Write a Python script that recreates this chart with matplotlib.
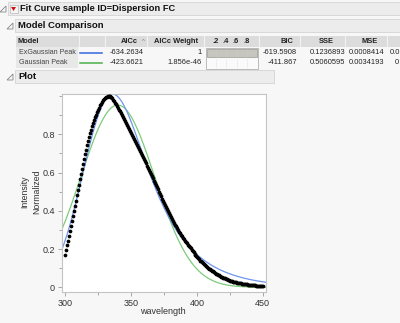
import math
import numpy as np
import matplotlib
matplotlib.use("Agg")
import matplotlib.pyplot as plt
from matplotlib.patches import Rectangle, Polygon
from matplotlib.lines import Line2D

plt.rcParams['font.family'] = ['Liberation Sans', 'DejaVu Sans']

W, H = 400, 323

# emission spectrum, normalized intensity sampled every 0.75 nm from 300 nm
wl_start, wl_step = 300.0, 0.75
intensity = [
    0.170, 0.194, 0.219, 0.244, 0.269, 0.294, 0.320, 0.346, 0.372, 0.399,
    0.425, 0.452, 0.480, 0.508, 0.536, 0.564, 0.592, 0.619, 0.645, 0.671,
    0.696, 0.720, 0.743, 0.764, 0.785, 0.805, 0.823, 0.841, 0.857, 0.874,
    0.889, 0.902, 0.915, 0.928, 0.940, 0.951, 0.961, 0.970, 0.978, 0.985,
    0.990, 0.994, 0.997, 0.999, 1.000, 0.999, 0.997, 0.993, 0.988, 0.981,
    0.974, 0.966, 0.957, 0.948, 0.939, 0.929, 0.920, 0.910, 0.900, 0.890,
    0.880, 0.869, 0.859, 0.848, 0.838, 0.827, 0.817, 0.806, 0.796, 0.785,
    0.775, 0.764, 0.754, 0.743, 0.733, 0.722, 0.712, 0.701, 0.691, 0.680,
    0.670, 0.659, 0.648, 0.636, 0.625, 0.614, 0.603, 0.591, 0.580, 0.569,
    0.557, 0.546, 0.535, 0.524, 0.512, 0.500, 0.488, 0.476, 0.464, 0.452,
    0.440, 0.430, 0.419, 0.409, 0.398, 0.388, 0.377, 0.367, 0.357, 0.347,
    0.338, 0.328, 0.318, 0.308, 0.299, 0.291, 0.283, 0.274, 0.266, 0.258,
    0.250, 0.243, 0.236, 0.230, 0.223, 0.216, 0.209, 0.203, 0.196, 0.189,
    0.182, 0.176, 0.169, 0.162, 0.156, 0.151, 0.146, 0.140, 0.135, 0.130,
    0.125, 0.120, 0.116, 0.111, 0.107, 0.102, 0.098, 0.094, 0.090, 0.086,
    0.083, 0.079, 0.075, 0.071, 0.068, 0.065, 0.062, 0.059, 0.056, 0.053,
    0.050, 0.048, 0.046, 0.044, 0.041, 0.039, 0.037, 0.035, 0.033, 0.032,
    0.030, 0.029, 0.027, 0.026, 0.024, 0.023, 0.022, 0.021, 0.020, 0.019,
    0.018, 0.017, 0.016, 0.016, 0.015, 0.014, 0.013, 0.013, 0.012, 0.012,
    0.011, 0.010, 0.010, 0.009, 0.009, 0.008, 0.008, 0.007, 0.007, 0.006,
    0.006,
]
wavelength = wl_start + wl_step * np.arange(len(intensity))

# fitted model parameters
exg_mu, exg_sigma, exg_tau, exg_peak = 320.0, 18.0, 28.0, 1.01
gau_amp, gau_center, gau_width = 0.953, 340.0, 28.0

# model comparison table
models = ['ExGaussian Peak', 'Gaussian Peak']
model_colors = ['#3565e0', '#4cb04c']
aicc = ['-634.2634', '-423.6621']
aicc_weight = ['1', '1.856e-46']
weight_val = [1.0, 0.0]
bic = ['-619.5908', '-411.867']
sse = ['0.1236893', '0.5060595']
mse = ['0.0008414', '0.0034193']
next_col = ['0.0', '0']

title = 'Fit Curve sample ID=Dispersion FC'
x_ticks = [300, 350, 400, 450]
y_ticks = [0, 0.2, 0.4, 0.6, 0.8]

TS = 5.4   # table font size
HS = 6.8   # section header size


def fx(x):
    return x / W


def fy(y):
    return 1 - y / H


def box(fig, x0, y0, x1, y1, fc, ec='none', lw=0.6, ls='-'):
    fig.add_artist(Rectangle((fx(x0), fy(y1)), fx(x1 - x0), (y1 - y0) / H,
                             facecolor=fc, edgecolor=ec, lw=lw, ls=ls,
                             transform=fig.transFigure))


def txt(fig, x, y, s, ha='left', size=TS, color='#222222', weight='normal'):
    fig.text(fx(x), fy(y), s, ha=ha, va='center', fontsize=size,
             color=color, fontweight=weight)


def tri(fig, x, y, color='#888888'):
    # disclosure triangle
    pts = [(fx(x - 3), fy(y + 3)), (fx(x + 3), fy(y + 3)), (fx(x + 3), fy(y - 3))]
    fig.add_artist(Polygon(pts, closed=True, facecolor='none', edgecolor=color,
                           lw=0.6, transform=fig.transFigure))


def exgauss(x):
    lam = 1.0 / exg_tau
    return np.array([
        lam / 2 * math.exp(lam / 2 * (2 * exg_mu + lam * exg_sigma ** 2 - 2 * v))
        * math.erfc((exg_mu + lam * exg_sigma ** 2 - v) / (math.sqrt(2) * exg_sigma))
        for v in x])


fig = plt.figure(figsize=(W / 100, H / 100), dpi=100)
fig.patch.set_facecolor('#f7f7f7')

# outline header
box(fig, 8, 2, 400, 15, '#ececec', '#d4d4d4')
tri(fig, 3, 9)
box(fig, 9.5, 4.5, 17.5, 13, '#f4f4f4', '#b8b8b8', lw=0.5)
fig.add_artist(Polygon([(fx(11), fy(7)), (fx(16), fy(7)), (fx(13.5), fy(11))],
                       closed=True, facecolor='#d01010', edgecolor='none',
                       transform=fig.transFigure))
txt(fig, 20, 8.5, title, size=6.7, weight='bold', color='#111111')

# model comparison section
box(fig, 15, 19, 400, 32, '#ececec', '#d4d4d4')
tri(fig, 10, 26)
txt(fig, 18, 25.5, 'Model Comparison', size=HS, weight='bold', color='#111111')

box(fig, 16, 36, 400, 47, '#dcdcdc')
for xs in [78.5, 104.5, 147, 203.5, 259, 300, 345, 387]:
    fig.add_artist(Line2D([fx(xs), fx(xs)], [fy(36), fy(47)], color='#f2f2f2',
                          lw=0.8, transform=fig.transFigure))
txt(fig, 18, 41.5, 'Model', weight='bold')
txt(fig, 138, 41.5, 'AICc', ha='right', weight='bold')
txt(fig, 143.5, 41.5, '^', ha='center', size=4.5, color='#777777')
txt(fig, 198, 41.5, 'AICc Weight', ha='right', weight='bold')
for k, lab in enumerate(['.2', '.4', '.6', '.8']):
    txt(fig, 215.5 + 10.3 * k, 41.5, lab, ha='center', weight='bold')
txt(fig, 293, 41.5, 'BIC', ha='right', weight='bold')
txt(fig, 334, 41.5, 'SSE', ha='right', weight='bold')
txt(fig, 378, 41.5, 'MSE', ha='right', weight='bold')

# table rows
bar_x0, bar_x1 = 205.5, 257.5
box(fig, bar_x0, 47.5, bar_x1, 68.5, '#fafafa', '#b0b0b0', lw=0.6)
for i, name in enumerate(models):
    yc = 52.5 + 10.5 * i
    box(fig, 16, yc - 5, 78, yc + 5, '#e8e8e8')
    txt(fig, 19, yc, name, size=5.1, color='#444444')
    fig.add_artist(Line2D([fx(80), fx(102)], [fy(yc), fy(yc)],
                          color=model_colors[i], lw=1.1,
                          transform=fig.transFigure))
    txt(fig, 144, yc, aicc[i], ha='right')
    txt(fig, 202, yc, aicc_weight[i], ha='right')
    for k in range(1, 5):
        xd = bar_x0 + (bar_x1 - bar_x0) * 0.2 * k
        fig.add_artist(Line2D([fx(xd), fx(xd)], [fy(yc - 4.5), fy(yc + 4.5)],
                              color='#cfcfcf', lw=0.5, ls=(0, (1, 1.5)),
                              transform=fig.transFigure))
    if weight_val[i] > 0:
        box(fig, bar_x0 + 1, yc - 4, bar_x0 + 1 + (bar_x1 - bar_x0 - 2) * weight_val[i],
            yc + 4, '#c6c6be', '#9a9a92', lw=0.5)
    txt(fig, 297, yc, bic[i], ha='right')
    txt(fig, 345, yc, sse[i], ha='right')
    txt(fig, 384, yc, mse[i], ha='right')
    txt(fig, 390 if i == 0 else 395, yc, next_col[i])

# plot section
box(fig, 15, 70, 274, 83, '#ececec', '#d4d4d4')
tri(fig, 10, 77)
txt(fig, 18, 76.5, 'Plot', size=HS, weight='bold', color='#111111')

ax = fig.add_axes([fx(62), fy(292), fx(266 - 62), (292 - 94) / H])
ax.set_facecolor('white')
ax.set_xlim(297.7, 452.5)
ax.set_ylim(-0.0246, 1.0107)

xs_fit = np.linspace(297.7, 452.5, 400)
exg = exgauss(xs_fit)
exg = exg / exg.max() * exg_peak
gau = gau_amp * np.exp(-(xs_fit - gau_center) ** 2 / (2 * gau_width ** 2))
ax.plot(xs_fit, gau, color='#7ccc7c', lw=0.9, zorder=2)
ax.plot(xs_fit, exg, color='#6f96ee', lw=0.9, zorder=2)
ax.plot(wavelength, intensity, 'o', color='black', ms=2.7, mew=0, zorder=3)

ax.set_xticks(x_ticks)
ax.set_xticks([325, 375, 425], minor=True)
ax.set_yticks(y_ticks)
ax.set_yticklabels(['0', '0.2', '0.4', '0.6', '0.8'])
ax.set_yticks([0.1, 0.3, 0.5, 0.7, 0.9, 1.0], minor=True)
ax.tick_params(which='both', direction='out', color='#9a9a9a', width=0.6,
               labelsize=6.5, labelcolor='#333333', pad=2)
ax.tick_params(which='major', length=3)
ax.tick_params(which='minor', length=2)
for sp in ax.spines.values():
    sp.set_color('#c4c4c4')
    sp.set_linewidth(0.8)

fig.text(fx(163), fy(311), 'wavelength', ha='center', va='center',
         fontsize=6.5, color='#333333')
fig.text(fx(30.5), fy(192), 'Intensity\nNormalized', ha='center', va='center',
         rotation=90, fontsize=6.3, color='#333333', linespacing=1.5)

fig.savefig('out.png', dpi=100, facecolor=fig.get_facecolor())
